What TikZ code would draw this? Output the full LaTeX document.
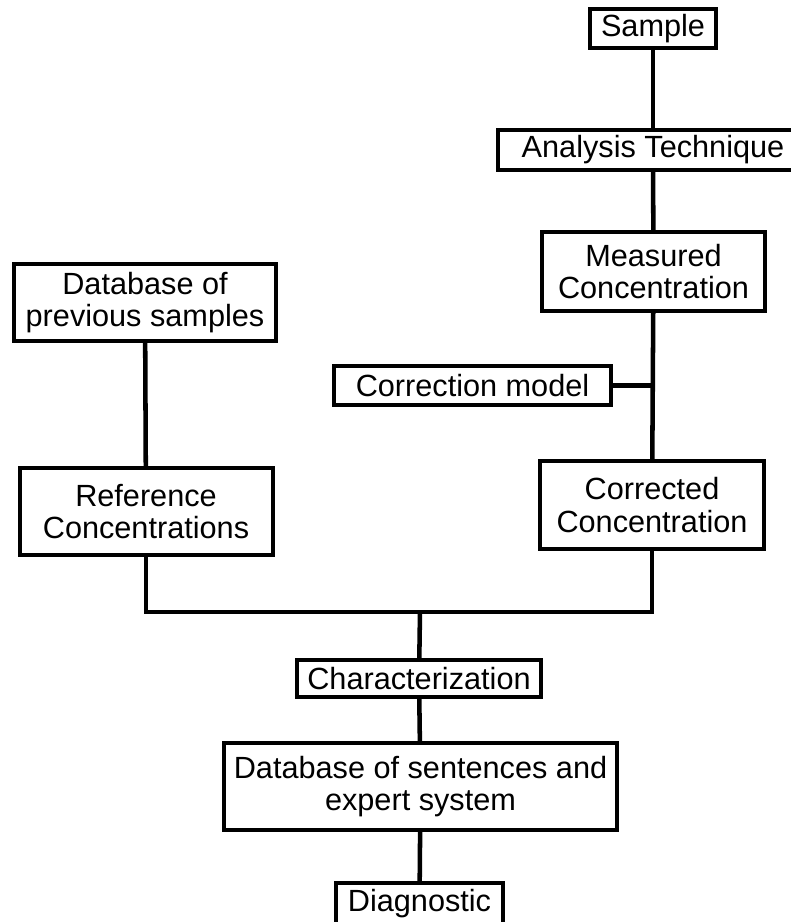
\documentclass[tikz,border=0pt]{standalone}
\usepackage{fontspec}
\setmainfont{Liberation Sans}
\begin{document}
\begin{tikzpicture}[x=0.75pt,y=-0.75pt,
  stage/.style={draw,line width=3pt,inner sep=0pt,align=center,
    font=\fontsize{23pt}{24.5pt}\selectfont},
  link/.style={line width=3.4pt}]
\useasboundingbox (0,0) rectangle (790,922);
\node[stage,minimum width=94.5pt,minimum height=29.25pt] (sample) at (653,28.5) {Sample};
\node[stage,minimum width=232pt,minimum height=30pt] (technique) at (653,150) {Analysis Technique};
\node[stage,minimum width=167.25pt,minimum height=59.25pt] (measured) at (653.5,271.5) {Measured\\Concentration};
\node[stage,minimum width=207.75pt,minimum height=29.25pt] (model) at (472.5,385.5) {Correction model};
\node[stage,minimum width=168pt,minimum height=66pt] (corrected) at (652,505) {Corrected\\Concentration};
\node[stage,minimum width=196.5pt,minimum height=57.75pt] (previous) at (145,302.5) {Database of\\previous samples};
\node[stage,minimum width=189.75pt,minimum height=65.25pt] (reference) at (146,511.5) {Reference\\Concentrations};
\node[stage,minimum width=183pt,minimum height=27.75pt] (charact) at (419,678.5) {Characterization};
\node[stage,minimum width=294.75pt,minimum height=65.25pt] (expert) at (420.5,786.5) {Database of sentences and\\expert system};
\node[stage,minimum width=125.25pt,minimum height=31.5pt] (diagnostic) at (419.5,904) {Diagnostic};
\coordinate (merge) at (420,612);
\draw[link] (sample) -- (technique);
\draw[link] (technique) -- (measured);
\draw[link] (measured) -- (corrected);
\draw[link] (model.east) -- (model.east -| measured.south);
\draw[link] (previous) -- (reference);
\draw[link] (reference.south) |- (merge) -| (corrected.south);
\draw[link] (merge) -- (charact);
\draw[link] (charact) -- (expert);
\draw[link] (expert) -- (diagnostic);
\end{tikzpicture}
\end{document}
